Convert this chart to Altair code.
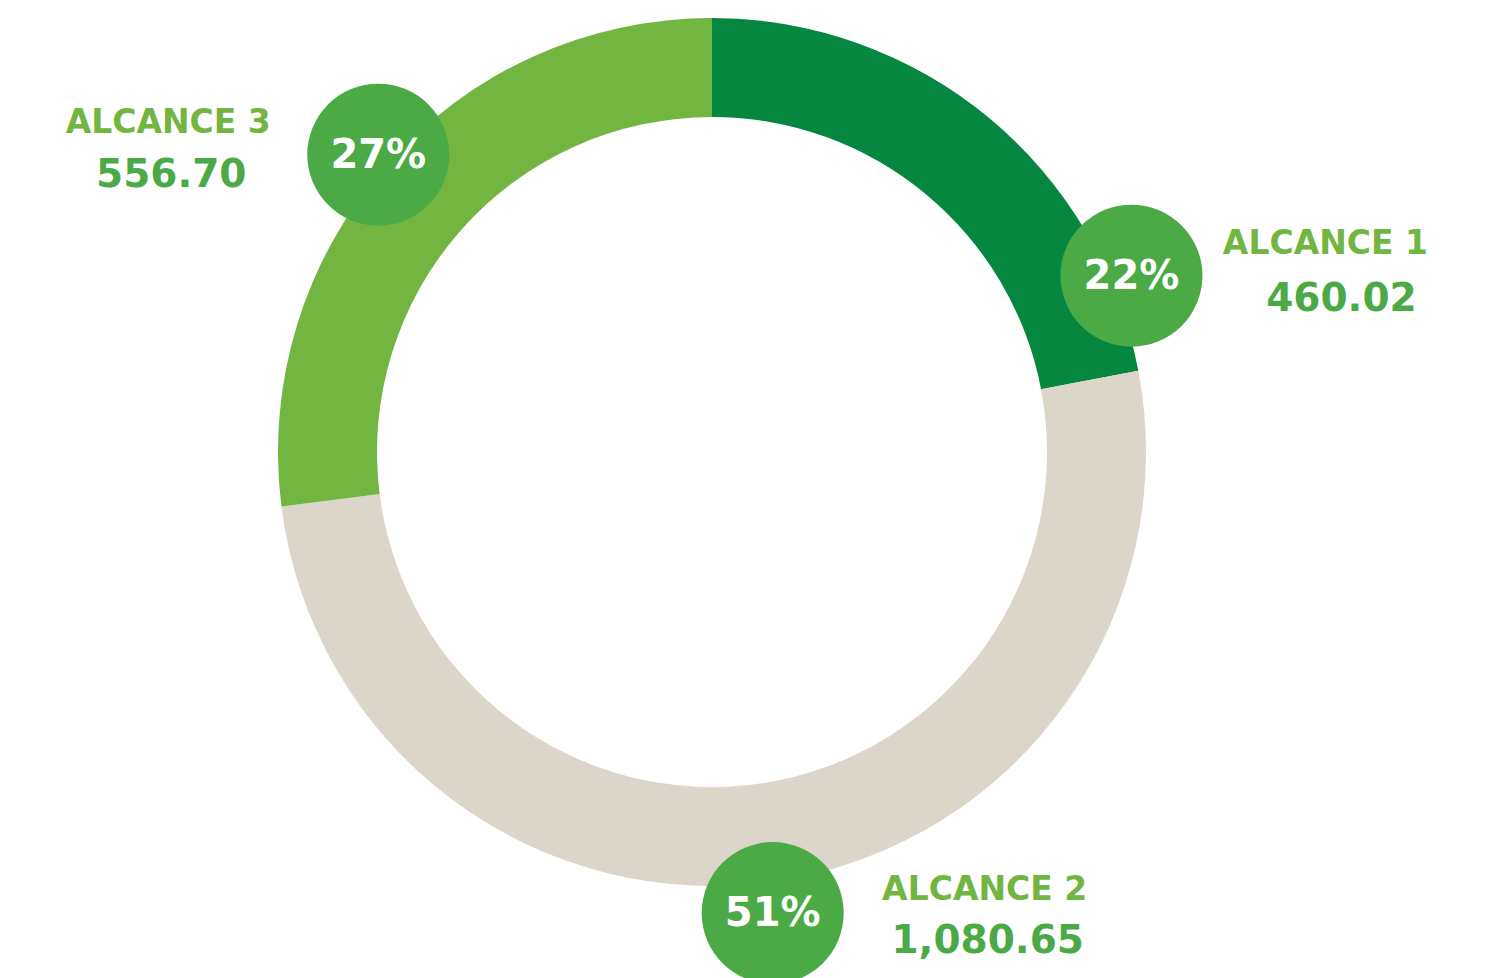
import altair as alt
import pandas as pd

# ---- data ----
categories = ["ALCANCE 1", "ALCANCE 2", "ALCANCE 3"]
values = [460.02, 1080.65, 556.70]
value_labels = ["460.02", "1,080.65", "556.70"]
pct_values = [22, 51, 27]
pct_labels = ["22%", "51%", "27%"]
colors = ["#05873F", "#DBD5CA", "#72B541"]

# ---- label layout (degrees clockwise from top, pixel radii / offsets) ----
badge_angle = [67.2, 172.5, 311.7]
badge_radius = [455, 465, 447]
name_dx = [194, 212, -210]
name_dy = [22, 13, 22]
value_dx = [210, 215, -207]
value_dy = [-35, -40, -32]

df = pd.DataFrame({
    "category": categories,
    "value": values,
    "value_label": value_labels,
    "share": pct_values,
    "pct": pct_labels,
    "order": [0, 1, 2],
    "angle": badge_angle,
    "brad": badge_radius,
    "ndx": name_dx, "ndy": name_dy,
    "vdx": value_dx, "vdy": value_dy,
})

W, H = 1480, 1000
CX, CY = 704, 444

xs = alt.Scale(domain=[-CX, W - CX], nice=False, zero=False)
ys = alt.Scale(domain=[CY - H, CY], nice=False, zero=False)

base = alt.Chart(df)

ring = base.mark_arc(innerRadius=335, outerRadius=434).encode(
    theta=alt.Theta("share:Q", stack=True),
    color=alt.Color("category:N", scale=alt.Scale(domain=categories, range=colors), legend=None),
    order=alt.Order("order:Q"),
    x=alt.value(CX),
    y=alt.value(CY),
)

pos = base.transform_calculate(
    bx="datum.brad * sin(datum.angle * PI / 180)",
    by="datum.brad * cos(datum.angle * PI / 180)",
).transform_calculate(
    nx="datum.bx + datum.ndx",
    ny="datum.by + datum.ndy",
    vx="datum.bx + datum.vdx",
    vy="datum.by + datum.vdy",
)

badges = pos.mark_point(filled=True, shape="circle", size=142 * 142, color="#4BAA45", opacity=1).encode(
    x=alt.X("bx:Q", scale=xs, axis=None),
    y=alt.Y("by:Q", scale=ys, axis=None),
)

pct_text = pos.mark_text(font="DejaVu Sans", fontWeight="bold", fontSize=40, color="white",
                         align="center", baseline="alphabetic", dy=13).encode(
    x=alt.X("bx:Q", scale=xs, axis=None),
    y=alt.Y("by:Q", scale=ys, axis=None),
    text="pct:N",
)

name_text = pos.mark_text(font="DejaVu Sans", fontWeight="bold", fontSize=33, color="#72B541",
                          align="center", baseline="alphabetic").encode(
    x=alt.X("nx:Q", scale=xs, axis=None),
    y=alt.Y("ny:Q", scale=ys, axis=None),
    text="category:N",
)

value_text = pos.mark_text(font="DejaVu Sans", fontWeight="bold", fontSize=39, color="#4BAA45",
                           align="center", baseline="alphabetic").encode(
    x=alt.X("vx:Q", scale=xs, axis=None),
    y=alt.Y("vy:Q", scale=ys, axis=None),
    text="value_label:N",
)

chart = alt.layer(ring, badges, pct_text, name_text, value_text).properties(
    width=W, height=H, padding=0, autosize=alt.AutoSizeParams(type="none"), background="white"
).configure_view(stroke=None)

chart.save("out.html", embed_options={"renderer": "svg", "actions": False})
